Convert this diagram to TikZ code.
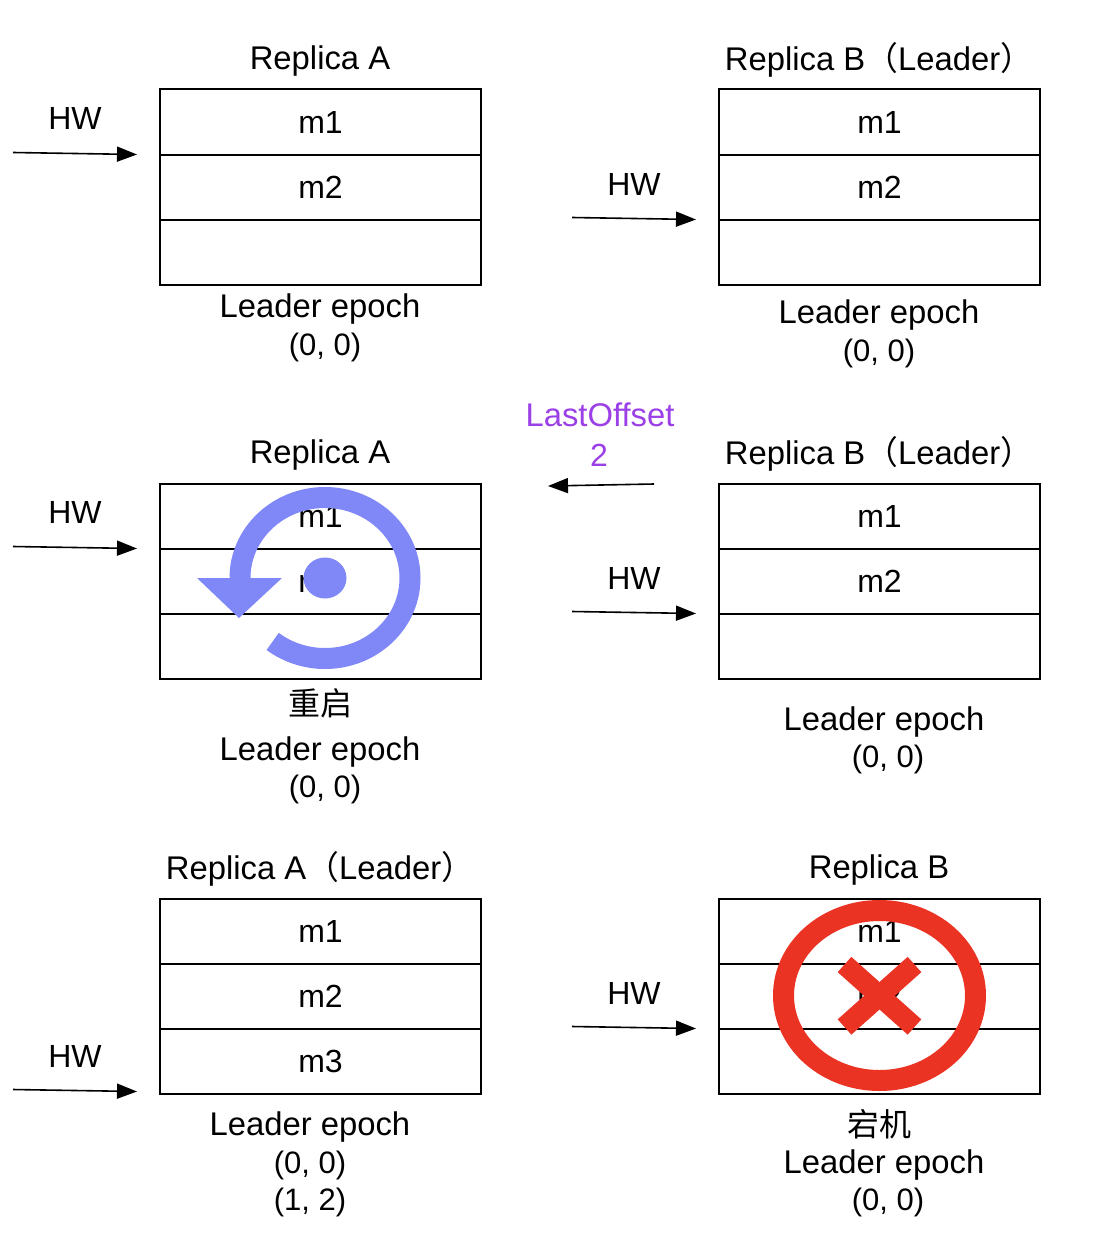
\documentclass[tikz,border=0pt]{standalone}
\usepackage{fontspec}
\setmainfont{Liberation Sans}
\newfontfamily\cjk{Noto Sans CJK SC}
\usetikzlibrary{arrows.meta}
\definecolor{restartblue}{HTML}{8088F8}
\definecolor{crashred}{HTML}{EB3323}
\definecolor{offsetpurple}{HTML}{9B3FE6}
\tikzset{
  cellbox/.style={draw,line width=2pt,rectangle,inner sep=0pt,minimum width=321pt,minimum height=65pt},
  hwarrow/.style={line width=1.6pt,-{Triangle[length=20pt,width=15pt]}},
  widetext/.style={font=\fontsize{32.8}{38}\selectfont},
  valtext/.style={font=\fontsize{31}{38}\selectfont},
}

\begin{document}
\begin{tikzpicture}[x=1pt,y=-1pt,font=\fontsize{32}{38}\selectfont,node distance=65pt]
  \useasboundingbox (0,0) rectangle (1104,1236);

  % top row
  \begin{scope}
  \node[widetext] (titleA1) at (320,61) {Replica A};
  \node[cellbox] (a11) at (320.5,122) {m1};
  \node[cellbox] (a12) [below of=a11] {m2};
  \node[cellbox] (a13) [below of=a12] {};
  \node[widetext] (epochA1) at (320,309) {Leader epoch};
  \node[valtext] (valA1) at (325,347) {(0, 0)};
  \node (hwA1) at (75,118) {HW};
  \coordinate (hwA1s) at (13,152.5);
  \coordinate (hwA1e) at (137,154.5);
  \draw[hwarrow] (hwA1s) -- (hwA1e);
  \end{scope}

  \begin{scope}[xshift=559pt]
  \node[widetext] (titleB1) at (320,60) {Replica B{\cjk （}Leader{\cjk ）}};
  \node[cellbox] (b11) at (320.5,122) {m1};
  \node[cellbox] (b12) [below of=b11] {m2};
  \node[cellbox] (b13) [below of=b12] {};
  \node[widetext] (epochB1) at (320,315) {Leader epoch};
  \node[valtext] (valB1) at (320,353) {(0, 0)};
  \node (hwB1) at (75,184) {HW};
  \coordinate (hwB1s) at (13,217.5);
  \coordinate (hwB1e) at (137,219.5);
  \draw[hwarrow] (hwB1s) -- (hwB1e);
  \end{scope}

  % middle row
  \begin{scope}[yshift=-394pt]
  \node[widetext] (titleA2) at (320,61) {Replica A};
  \node[cellbox] (a21) at (320.5,122) {m1};
  \node[cellbox] (a22) [below of=a21] {m2};
  \node[cellbox] (a23) [below of=a22] {};
  \node (restart) at (320,309) {\cjk 重启};
  \node[widetext] (epochA2) at (320,358) {Leader epoch};
  \node[valtext] (valA2) at (325,395) {(0, 0)};
  \node (hwA2) at (75,118) {HW};
  \coordinate (hwA2s) at (13,152.5);
  \coordinate (hwA2e) at (137,154.5);
  \draw[hwarrow] (hwA2s) -- (hwA2e);
  % restart icon
  \draw[restartblue,line width=21pt] (240,184) arc[start angle=180,end angle=488,x radius=85,y radius=80.5];
  \fill[restartblue] (197,184) -- (282,184) -- (239,224) -- cycle;
  \fill[restartblue] (325,184) ellipse (21.5 and 20.5);
  \end{scope}

  \begin{scope}[xshift=559pt,yshift=-394pt]
  \node[widetext] (titleB2) at (320,60) {Replica B{\cjk （}Leader{\cjk ）}};
  \node[cellbox] (b21) at (320.5,122) {m1};
  \node[cellbox] (b22) [below of=b21] {m2};
  \node[cellbox] (b23) [below of=b22] {};
  \node[widetext] (epochB2) at (325,328) {Leader epoch};
  \node[valtext] (valB2) at (329,365) {(0, 0)};
  \node (hwB2) at (75,184) {HW};
  \coordinate (hwB2s) at (13,217.5);
  \coordinate (hwB2e) at (137,219.5);
  \draw[hwarrow] (hwB2s) -- (hwB2e);
  \end{scope}

  \begin{scope}
  \node[widetext,text=offsetpurple] (lastoff) at (600,415) {LastOffset};
  \node[text=offsetpurple] (lastval) at (599,455) {2};
  \coordinate (fetchs) at (654,484);
  \coordinate (fetche) at (548,486);
  \draw[hwarrow] (fetchs) -- (fetche);
  \end{scope}

  % bottom row
  \begin{scope}[yshift=-809pt]
  \node[widetext] (titleA3) at (320,60) {Replica A{\cjk （}Leader{\cjk ）}};
  \node[cellbox] (a31) at (320.5,122) {m1};
  \node[cellbox] (a32) [below of=a31] {m2};
  \node[cellbox] (a33) [below of=a32] {m3};
  \node[widetext] (epochA3) at (310,318) {Leader epoch};
  \node[valtext] (valA3) at (310,356) {(0, 0)};
  \node[valtext] (valA3b) at (310,393) {(1, 2)};
  \node (hwA3) at (75,247) {HW};
  \coordinate (hwA3s) at (13,280.5);
  \coordinate (hwA3e) at (137,282.5);
  \draw[hwarrow] (hwA3s) -- (hwA3e);
  \end{scope}

  \begin{scope}[xshift=559pt,yshift=-809pt]
  \node[widetext] (titleB3) at (320,61) {Replica B};
  \node[cellbox] (b31) at (320.5,122) {m1};
  \node[cellbox] (b32) [below of=b31] {m2};
  \node[cellbox] (b33) [below of=b32] {};
  \node (crash) at (320,315) {\cjk 宕机};
  \node[widetext] (epochB3) at (325,356) {Leader epoch};
  \node[valtext] (valB3) at (329,393) {(0, 0)};
  \node (hwB3) at (75,184) {HW};
  \coordinate (hwB3s) at (13,217.5);
  \coordinate (hwB3e) at (137,219.5);
  \draw[hwarrow] (hwB3s) -- (hwB3e);
  % crash icon
  \draw[crashred,line width=21pt] (320.5,186.5) ellipse (96 and 85);
  \draw[crashred,line width=20.5pt] (285.5,155.5) -- (355.5,218);
  \draw[crashred,line width=20.5pt] (355.5,155.5) -- (285.5,218);
  \end{scope}
\end{tikzpicture}
\end{document}
